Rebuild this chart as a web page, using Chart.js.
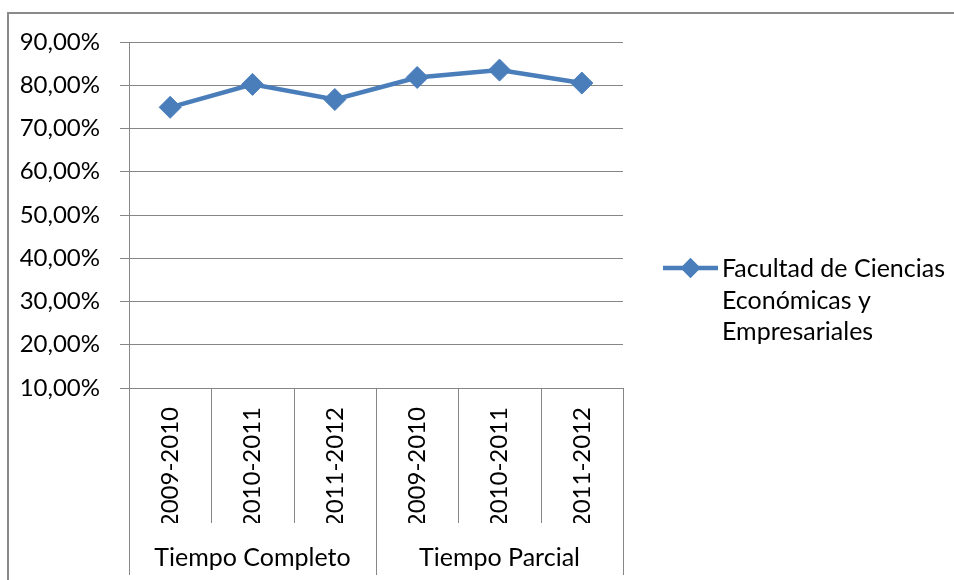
<!DOCTYPE html>
<html><head><meta charset="utf-8">
<script src="https://cdn.jsdelivr.net/npm/chart.js@4.4.1/dist/chart.umd.min.js"></script>
<style>html,body{margin:0;padding:0;background:#fff;overflow:hidden;}</style>
</head><body>
<canvas id="c" width="954" height="580" style="display:block;width:954px;height:580px"></canvas>
<script>
const categories = ['2009-2010','2010-2011','2011-2012','2009-2010','2010-2011','2011-2012'];
const groups = ['Tiempo Completo','Tiempo Parcial'];
const seriesLabel = ['Facultad de Ciencias','Económicas y','Empresariales'];
const values = [74.9, 80.2, 76.7, 81.8, 83.5, 80.5];
const yMin = 10, yMax = 90, yStep = 10;

const FONT = 'Lato';
const FS = 24;
const FS_LEG = 25;
const BLUE = '#4a7ebb';
const GRID = '#868686';

const deco = {
  id: 'deco',
  beforeDraw(chart) {
    const ctx = chart.ctx;
    ctx.save();
    ctx.fillStyle = '#fff';
    ctx.fillRect(0, 0, chart.width, chart.height);
    ctx.strokeStyle = '#8a8a8a';
    ctx.lineWidth = 2;
    ctx.lineCap = 'butt';
    ctx.beginPath();
    ctx.moveTo(8, chart.height + 10);
    ctx.lineTo(8, 13);
    ctx.lineTo(chart.width + 20, 13);
    ctx.stroke();
    ctx.restore();
  },
  afterDraw(chart) {
    const {ctx, chartArea} = chart;
    const x = chart.scales.x, x2 = chart.scales.x2;
    const n = categories.length;
    const step = x.getPixelForValue(1) - x.getPixelForValue(0);
    const per = n / groups.length;
    ctx.save();
    ctx.strokeStyle = GRID;
    ctx.lineWidth = 1;
    for (let i = 0; i <= n; i++) {
      const px = Math.round(x.getPixelForValue(i) - step / 2) + 0.5;
      const yEnd = (i % per === 0) ? x2.bottom : x.bottom;
      ctx.beginPath();
      ctx.moveTo(px, chartArea.bottom);
      ctx.lineTo(px, yEnd);
      ctx.stroke();
    }
    // legend
    const ds = chart.data.datasets[0];
    const ly = 268;
    const lx0 = chartArea.right + 40, lx1 = chartArea.right + 95;
    ctx.strokeStyle = ds.borderColor;
    ctx.lineWidth = ds.borderWidth;
    ctx.beginPath();
    ctx.moveTo(lx0, ly);
    ctx.lineTo(lx1, ly);
    ctx.stroke();
    ctx.fillStyle = ds.pointBackgroundColor;
    ctx.strokeStyle = ds.pointBackgroundColor;
    Chart.helpers.drawPoint(ctx, {pointStyle: 'rectRot', radius: 7, borderWidth: 1, rotation: 0}, (lx0 + lx1) / 2, ly);
    ctx.fillStyle = '#000';
    ctx.font = FS_LEG + 'px ' + FONT;
    ctx.textAlign = 'left';
    ctx.textBaseline = 'alphabetic';
    const baselines = [277, 308.5, 340];
    seriesLabel.forEach((t, i) => ctx.fillText(t, lx1 + 4, baselines[i]));
    ctx.restore();
  }
};

new Chart(document.getElementById('c'), {
  type: 'line',
  data: {
    labels: categories,
    datasets: [{
      label: seriesLabel.join(' '),
      data: values,
      borderColor: BLUE,
      backgroundColor: BLUE,
      borderWidth: 4.5,
      pointStyle: 'rectRot',
      pointRadius: 11,
      pointHoverRadius: 11,
      pointBackgroundColor: BLUE,
      pointBorderColor: BLUE,
      pointBorderWidth: 1,
      tension: 0,
      clip: false
    }]
  },
  options: {
    responsive: false,
    animation: false,
    devicePixelRatio: 1,
    layout: {padding: {left: 0, top: 42, right: 331, bottom: 5}},
    plugins: {legend: {display: false}, tooltip: {enabled: false}},
    scales: {
      x: {
        type: 'category',
        offset: true,
        weight: 0,
        grid: {display: false, drawTicks: false},
        border: {display: false},
        ticks: {
          autoSkip: false, minRotation: 90, maxRotation: 90, padding: 19,
          color: '#000', font: {family: FONT, size: FS}
        },
        afterFit(s) { s.height = 135; }
      },
      x2: {
        type: 'category',
        labels: groups,
        position: 'bottom',
        offset: true,
        weight: 1,
        grid: {display: false, drawTicks: false},
        border: {display: false},
        ticks: {autoSkip: false, maxRotation: 0, padding: 20, color: '#000', font: {family: FONT, size: FS_LEG}},
        afterFit(s) { s.height = 52; }
      },
      y: {
        min: yMin, max: yMax,
        ticks: {
          stepSize: yStep, padding: 20, color: '#000', font: {family: FONT, size: FS},
          callback: v => v.toFixed(2).replace('.', ',') + '%'
        },
        grid: {color: GRID, tickColor: GRID, tickLength: 9, lineWidth: 1},
        border: {display: true, color: GRID, width: 1},
        afterFit(s) { s.width = 129; }
      }
    }
  },
  plugins: [deco]
});
</script>
</body></html>
